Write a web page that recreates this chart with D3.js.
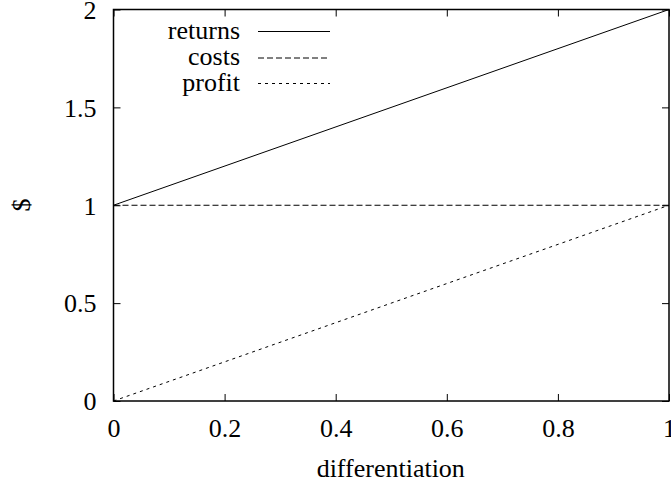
<!DOCTYPE html>
<html><head><meta charset="utf-8">
<script src="https://cdn.jsdelivr.net/npm/d3@7"></script>
<style>body{margin:0;background:#fff}svg{display:block}</style>
</head><body><svg id="c" width="671" height="484"></svg>
<script>
const xTicks = [0, 0.2, 0.4, 0.6, 0.8, 1];
const xTickLabels = ["0", "0.2", "0.4", "0.6", "0.8", "1"];
const yTicks = [0, 0.5, 1, 1.5, 2];
const yTickLabels = ["0", "0.5", "1", "1.5", "2"];
const xValues = [0, 1];
const returns = [1, 2];
const costs = [1, 1];
const profit = [0, 1];
const seriesNames = ["returns", "costs", "profit"];
const dashes = [null, "6,3", "3,4"];

const FONT = "'Liberation Serif', 'DejaVu Serif', serif";
const FS = "26px";
const svg = d3.select("#c");
const L = 113.5, R = 669, T = 9.5, B = 401;
const x = d3.scaleLinear().domain([0, 1]).range([L, R]);
const y = d3.scaleLinear().domain([0, 2]).range([B, T]);
const tl = 7;

svg.append("g").attr("transform", `translate(0,${B})`)
  .call(d3.axisBottom(x).tickValues(xTicks).tickFormat((d,i)=>xTickLabels[i]).tickSize(-tl))
  .call(g=>{g.select(".domain").remove(); g.selectAll("text").attr("y",35.5).attr("dy",null);});
svg.append("g").attr("transform", `translate(0,${T})`)
  .call(d3.axisTop(x).tickValues(xTicks).tickFormat("").tickSize(-tl))
  .call(g=>g.select(".domain").remove());
svg.append("g").attr("transform", `translate(${L},0)`)
  .call(d3.axisLeft(y).tickValues(yTicks).tickFormat((d,i)=>yTickLabels[i]).tickSize(-tl))
  .call(g=>{g.select(".domain").remove(); g.selectAll("text").attr("x",-17).attr("dy","0.34em");});
svg.append("g").attr("transform", `translate(${R},0)`)
  .call(d3.axisRight(y).tickValues(yTicks).tickFormat("").tickSize(-tl))
  .call(g=>g.select(".domain").remove());
svg.selectAll(".tick line").attr("stroke","#000").attr("stroke-width",1);
svg.selectAll(".tick text").attr("fill","#000");

svg.append("rect").attr("x",L).attr("y",T).attr("width",R-L).attr("height",B-T)
  .attr("fill","none").attr("stroke","#000").attr("stroke-width",1.5);

const data = [returns, costs, profit];
const line = d3.line().x((d,i)=>x(xValues[i])).y(d=>y(d));
data.forEach((s,k)=>{
  svg.append("path").datum(s).attr("d",line).attr("fill","none").attr("stroke","#000")
    .attr("stroke-width",1).attr("stroke-dasharray",dashes[k]);
});

const ly = [31.5, 58, 83.5];
seriesNames.forEach((n,k)=>{
  svg.append("text").attr("x",240).attr("y",ly[k]+7).attr("text-anchor","end").text(n);
  svg.append("line").attr("x1",258).attr("x2",330).attr("y1",ly[k]).attr("y2",ly[k])
    .attr("stroke","#000").attr("stroke-width",1).attr("stroke-dasharray",dashes[k]);
});

svg.append("text").attr("x",(L+R)/2 - 0.5).attr("y",477).attr("text-anchor","middle").text("differentiation");
svg.append("text").attr("transform","translate(29.5,205) rotate(-90)").attr("text-anchor","middle").text("$");
svg.selectAll("text").style("font-family",FONT).style("font-size",FS).attr("fill","#000");
</script></body></html>
